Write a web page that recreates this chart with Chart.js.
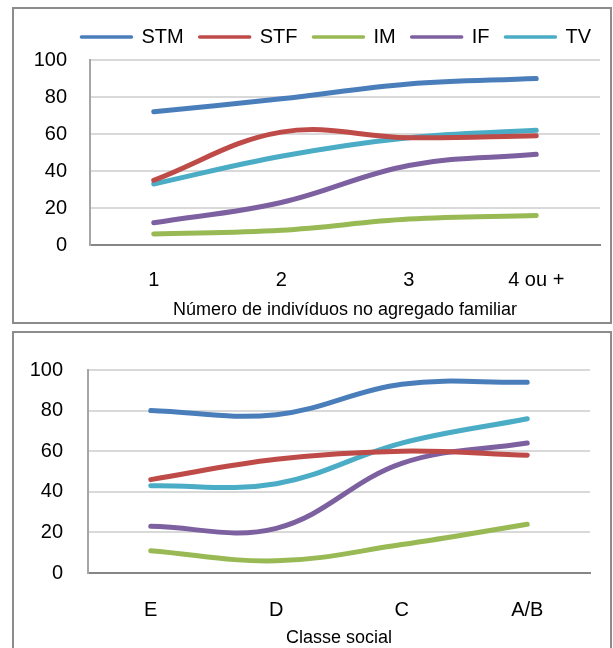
<!DOCTYPE html>
<html>
<head>
<meta charset="utf-8">
<script src="https://cdn.jsdelivr.net/npm/chart.js@4/dist/chart.umd.min.js"></script>
<style>
  html, body { margin: 0; padding: 0; background: #fff; width: 613px; height: 648px; overflow: hidden; }
  .panel { position: absolute; left: 12px; width: 596px; border: 2px solid #8c8c8c; background: #fff; }
  #p1 { top: 7px; height: 313px; }
  #p2 { top: 331px; height: 320px; }
  .panel canvas { display: block; }
</style>
</head>
<body>
<div class="panel" id="p1"><canvas id="c1" width="596" height="313" style="width:596px;height:313px"></canvas></div>
<div class="panel" id="p2"><canvas id="c2" width="596" height="320" style="width:596px;height:320px"></canvas></div>
<script>
// Series names and colours
const seriesNames = ['STM', 'STF', 'IM', 'IF', 'TV'];
const seriesColors = ['#4A7EBB', '#BE4B48', '#98B954', '#7D60A0', '#4BACC6'];

// Household size (%)
const householdLabels = ['1', '2', '3', '4 ou +'];
const stmHousehold = [72, 79, 87, 90];
const stfHousehold = [35, 61, 58, 59];
const imHousehold  = [6, 8, 14, 16];
const ifHousehold  = [12, 23, 43, 49];
const tvHousehold  = [33, 48, 58, 62];

// Social class (%)
const classLabels = ['E', 'D', 'C', 'A/B'];
const stmClass = [80, 78, 93, 94];
const stfClass = [46, 56, 60, 58];
const imClass  = [11, 6, 14, 24];
const ifClass  = [23, 22, 54, 64];
const tvClass  = [43, 44, 64, 76];

// Value axis ticks
const yMin = 0, yMax = 100, yStep = 20;

const FONT = "'Liberation Sans', Arial, sans-serif";

function buildDatasets(values) {
  return values.map((v, i) => ({
    label: seriesNames[i],
    data: v,
    borderColor: seriesColors[i],
    backgroundColor: seriesColors[i],
    borderWidth: 5,
    borderCapStyle: 'round',
    borderJoinStyle: 'round',
    pointRadius: 0,
    pointHoverRadius: 0,
    tension: 0.38,
    fill: false
  }));
}

function makeChart(canvasId, labels, values, cfg) {
  const scales = {
    x: {
      type: 'category',
      offset: true,
      grid: { display: false, drawTicks: false },
      border: { display: true, color: '#868686', width: 2 },
      ticks: { color: '#000', font: { family: FONT, size: 20 }, padding: cfg.xTickPad, maxRotation: 0 },
      title: {
        display: true, text: cfg.xTitle, color: '#000',
        font: { family: FONT, size: 18 }, padding: { top: 0, bottom: cfg.titlePadBottom }
      },
      afterFit: s => { s.height = cfg.xHeight; }
    },
    y: {
      min: yMin, max: yMax,
      grid: { color: '#d9d9d9', lineWidth: 2, drawTicks: false },
      border: { display: true, color: '#a6a6a6', width: 2 },
      ticks: { stepSize: yStep, color: '#000', font: { family: FONT, size: 20 }, padding: cfg.yTickPad },
      afterFit: s => { s.width = cfg.yWidth; }
    }
  };
  if (cfg.rightGap) {
    scales.yRight = {
      type: 'linear', position: 'right', display: true,
      grid: { display: false, drawTicks: false }, border: { display: false },
      ticks: { display: false },
      afterFit: s => { s.width = cfg.rightGap; }
    };
  }
  if (cfg.topGap) {
    scales.xTop = {
      type: 'category', position: 'top', display: true,
      grid: { display: false, drawTicks: false }, border: { display: false },
      ticks: { display: false },
      afterFit: s => { s.height = cfg.topGap; }
    };
  }
  return new Chart(document.getElementById(canvasId), {
    type: 'line',
    data: { labels: labels, datasets: buildDatasets(values) },
    options: {
      responsive: false,
      animation: false,
      events: [],
      layout: { padding: cfg.padding },
      plugins: {
        tooltip: { enabled: false },
        legend: {
          display: cfg.legend,
          position: 'top',
          align: 'end',
          labels: {
            color: '#000',
            font: { family: FONT, size: 20 },
            usePointStyle: true,
            pointStyle: 'line',
            pointStyleWidth: 50,
            padding: 16,
            generateLabels: chart =>
              Chart.defaults.plugins.legend.labels.generateLabels(chart).map(it =>
                Object.assign(it, { lineWidth: 3.5, lineCap: 'round', pointStyle: 'line' }))
          }
        }
      },
      scales: scales
    }
  });
}

makeChart('c1', householdLabels,
  [stmHousehold, stfHousehold, imHousehold, ifHousehold, tvHousehold], {
    legend: true,
    xTitle: 'Número de indivíduos no agregado familiar',
    padding: { top: 2, left: 0, right: 3, bottom: 0 },
    rightGap: 7,
    topGap: 3,
    yWidth: 76,
    yTickPad: 23,
    xTickPad: 23,
    xHeight: 77,
    titlePadBottom: 1
  });

makeChart('c2', classLabels,
  [stmClass, stfClass, imClass, ifClass, tvClass], {
    legend: false,
    xTitle: 'Classe social',
    padding: { top: 32, left: 0, right: 20, bottom: 0 },
    yWidth: 74,
    yTickPad: 25,
    xTickPad: 25,
    xHeight: 80,
    titlePadBottom: 4
  });
</script>
</body>
</html>
